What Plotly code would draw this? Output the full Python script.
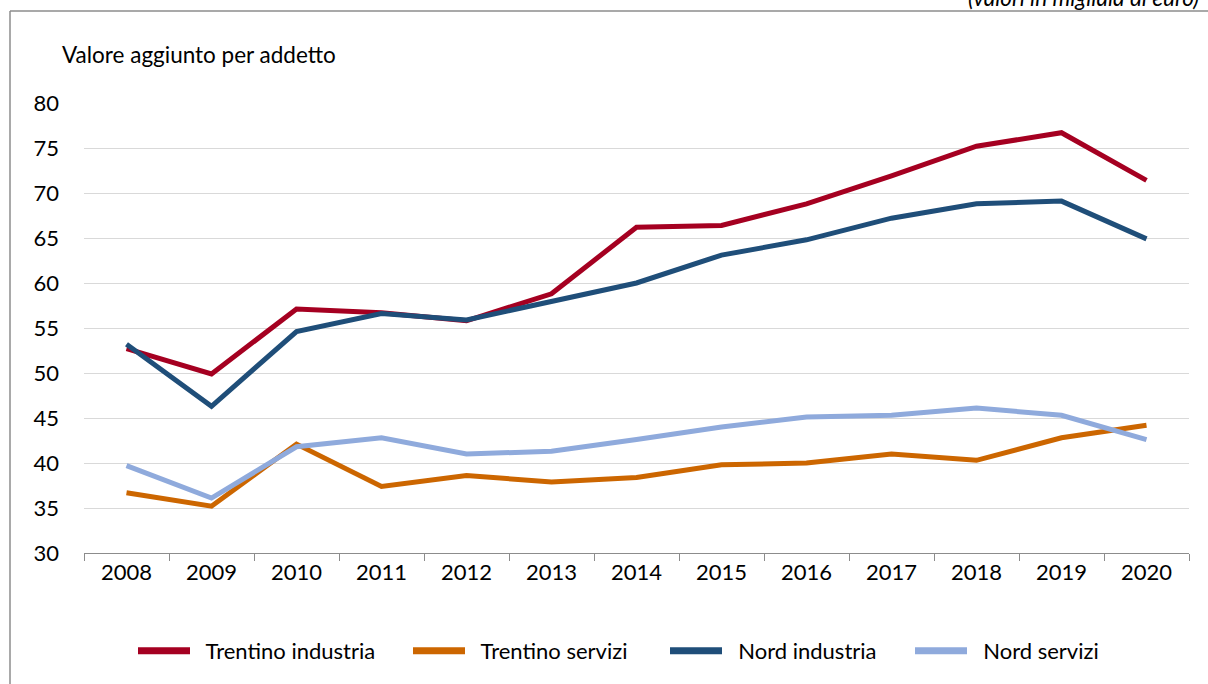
import plotly.graph_objects as go

years = ["2008", "2009", "2010", "2011", "2012", "2013", "2014", "2015", "2016", "2017", "2018", "2019", "2020"]
trentino_industria = [52.7, 49.9, 57.1, 56.7, 55.8, 58.8, 66.2, 66.4, 68.8, 71.9, 75.2, 76.7, 71.4]
trentino_servizi = [36.7, 35.2, 42.1, 37.4, 38.6, 37.9, 38.4, 39.8, 40.0, 41.0, 40.3, 42.8, 44.2]
nord_industria = [53.2, 46.3, 54.6, 56.6, 55.9, 57.9, 60.0, 63.1, 64.8, 67.2, 68.8, 69.1, 64.9]
nord_servizi = [39.7, 36.1, 41.8, 42.8, 41.0, 41.3, 42.6, 44.0, 45.1, 45.3, 46.1, 45.3, 42.6]

series = [
    ("Trentino industria", trentino_industria, "#A50021"),
    ("Trentino servizi", trentino_servizi, "#CC6600"),
    ("Nord industria", nord_industria, "#1F4E79"),
    ("Nord servizi", nord_servizi, "#8FAADC"),
]
legend_x_px = [140, 415, 672, 917]

FONT = "Lato, Calibri, sans-serif"
FS = 22
PW, PH = 1105, 450

fig = go.Figure()
legend_ids = ["legend", "legend2", "legend3", "legend4"]
for (name, vals, col), lid in zip(series, legend_ids):
    fig.add_trace(go.Scatter(x=years, y=vals, name=name, mode="lines",
                             line=dict(color=col, width=5), showlegend=False))
    fig.add_trace(go.Scatter(x=[None], y=[None], name="\u00a0\u00a0" + name, mode="lines",
                             line=dict(color=col, width=7), showlegend=True, legend=lid))

legend_layout = {}
for lid, xp in zip(legend_ids, legend_x_px):
    legend_layout[lid] = dict(orientation="h", x=(xp - 84 - 7) / PW, xanchor="left",
                              y=-(651 - 553) / PH, yanchor="middle",
                              font=dict(size=FS, family=FONT), itemwidth=52,
                              bgcolor="rgba(0,0,0,0)")

fig.update_layout(
    width=1208, height=684,
    margin=dict(l=84, r=19, t=103, b=131, autoexpand=False),
    plot_bgcolor="white", paper_bgcolor="white",
    font=dict(family=FONT, size=FS, color="#000000"),
    showlegend=True,
    xaxis=dict(type="category", range=[-0.5, 12.5], showgrid=False,
               showline=True, linecolor="#8c8c8c", linewidth=1,
               ticks="outside", tickson="boundaries", ticklen=7, tickcolor="#8c8c8c",
               tickfont=dict(size=FS), fixedrange=True),
    yaxis=dict(range=[30, 80], dtick=5, showgrid=True, gridcolor="#d9d9d9", gridwidth=1,
               zeroline=False, showline=False, ticks="", ticklabelstandoff=24,
               tickfont=dict(size=FS), fixedrange=True),
    annotations=[
        dict(text="Valore aggiunto per addetto", xref="paper", yref="paper",
             x=-(84 - 60) / PW, y=1 + (103 - 55) / PH, xanchor="left", yanchor="middle",
             showarrow=False, font=dict(size=22.5)),
        dict(text="<i>(valori in migliaia di euro)</i>", xref="paper", yref="paper",
             x=(966 - 84) / PW, y=1 + (103 + 3) / PH, xanchor="left", yanchor="middle",
             showarrow=False, font=dict(size=22.5)),
    ],
    shapes=[
        dict(type="line", xref="paper", yref="paper",
             x0=-74 / PW, x1=1 + 19 / PW, y0=1 + (103 - 11) / PH, y1=1 + (103 - 11) / PH,
             line=dict(color="#8c8c8c", width=1.5)),
        dict(type="line", xref="paper", yref="paper",
             x0=-74 / PW, x1=-74 / PW, y0=1 + (103 - 11) / PH, y1=-131 / PH,
             line=dict(color="#8c8c8c", width=1.5)),
    ],
    **legend_layout,
)

fig.write_html("out.html", config={"displayModeBar": False},
               post_script="document.body.style.margin='0';")
